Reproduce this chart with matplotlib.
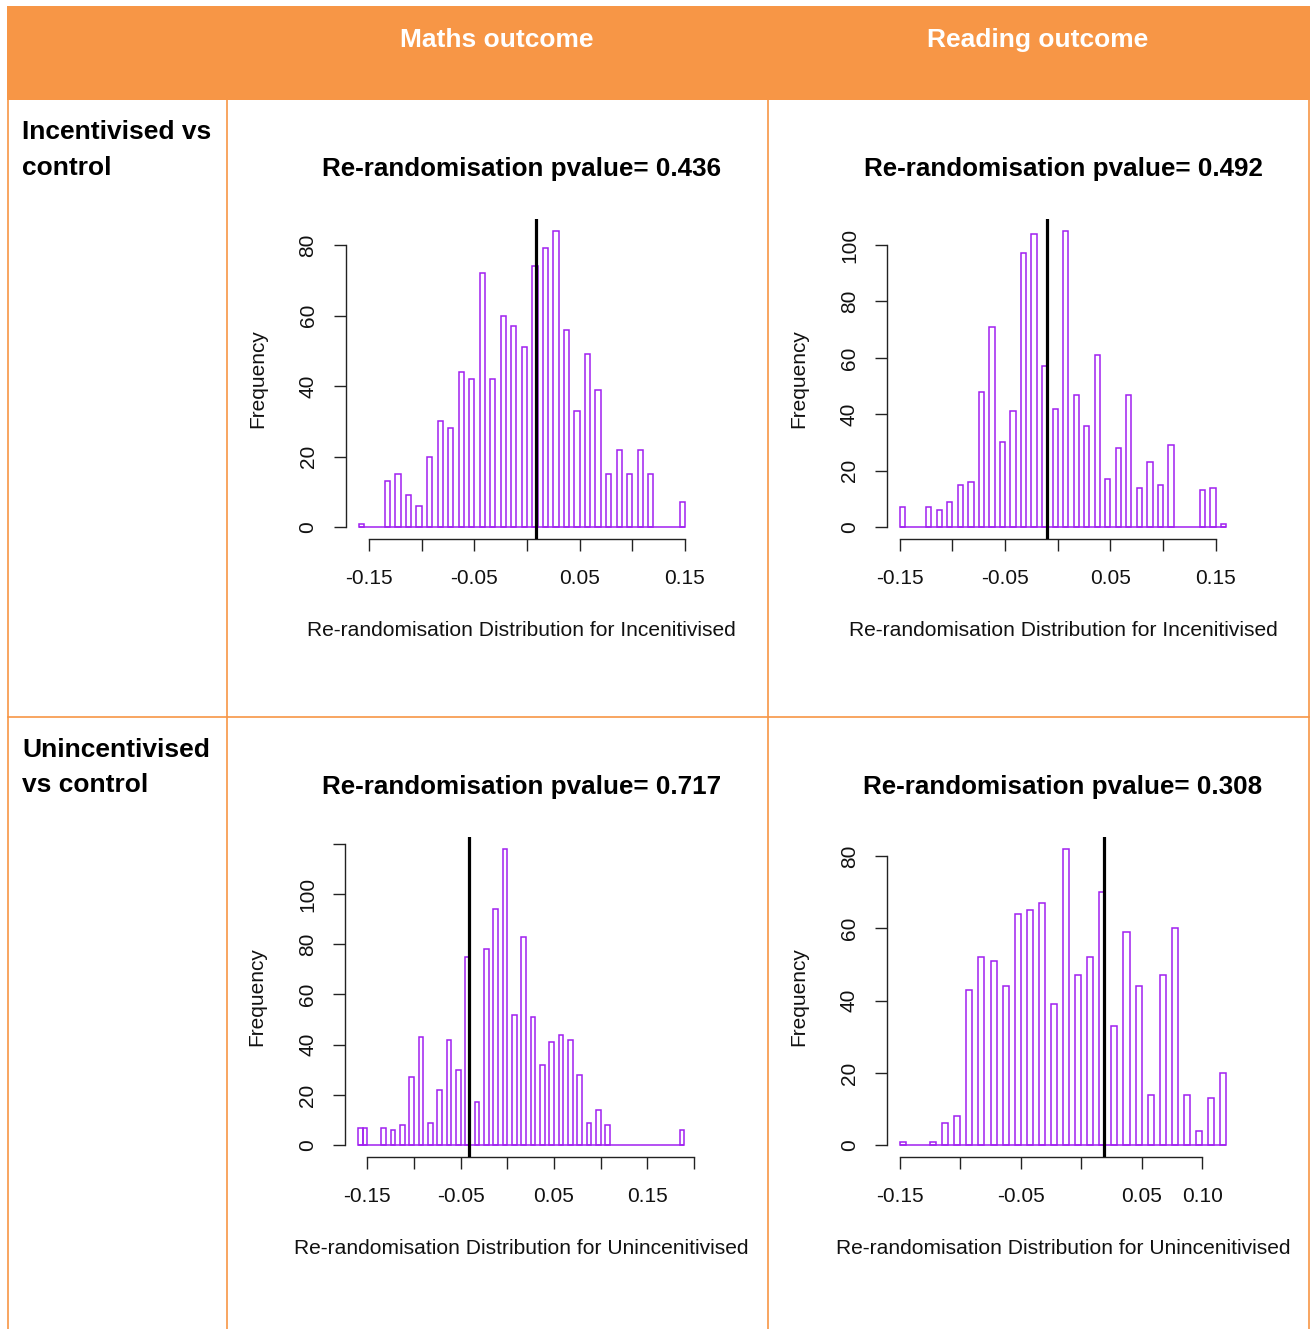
import matplotlib
matplotlib.use("Agg")
import matplotlib.pyplot as plt
from matplotlib.patches import Rectangle
from matplotlib.lines import Line2D

plt.rcParams['font.family'] = ['Liberation Sans', 'DejaVu Sans']

W, H = 1314, 1329
ORANGE = "#F79646"
PURPLE = "#A020F0"
BIN_W = 0.005

# ---------------- data ----------------
col_headers = ["Maths outcome", "Reading outcome"]
row_labels = [["Incentivised vs", "control"], ["Unincentivised", "vs control"]]

titles = ["Re-randomisation pvalue= 0.436", "Re-randomisation pvalue= 0.492",
          "Re-randomisation pvalue= 0.717", "Re-randomisation pvalue= 0.308"]
xlabels = ["Re-randomisation Distribution for Incenitivised",
           "Re-randomisation Distribution for Incenitivised",
           "Re-randomisation Distribution for Unincenitivised",
           "Re-randomisation Distribution for Unincenitivised"]

# Maths, incentivised vs control
maths_inc_bins = [-0.160, -0.135, -0.125, -0.115, -0.105, -0.095, -0.085, -0.075,
                  -0.065, -0.055, -0.045, -0.035, -0.025, -0.015, -0.005, 0.005,
                  0.015, 0.025, 0.035, 0.045, 0.055, 0.065, 0.075, 0.085, 0.095,
                  0.105, 0.115, 0.145]
maths_inc_counts = [1, 13, 15, 9, 6, 20, 30, 28, 44, 42, 72, 42, 60, 57, 51, 74,
                    79, 84, 56, 33, 49, 39, 15, 22, 15, 22, 15, 7]
maths_inc_obs = 0.009

# Reading, incentivised vs control
read_inc_bins = [-0.150, -0.125, -0.115, -0.105, -0.095, -0.085, -0.075, -0.065,
                 -0.055, -0.045, -0.035, -0.025, -0.015, -0.005, 0.005, 0.015,
                 0.025, 0.035, 0.045, 0.055, 0.065, 0.075, 0.085, 0.095, 0.105,
                 0.135, 0.145, 0.155]
read_inc_counts = [7, 7, 6, 9, 15, 16, 48, 71, 30, 41, 97, 104, 57, 42, 105, 47,
                   36, 61, 17, 28, 47, 14, 23, 15, 29, 13, 14, 1]
read_inc_obs = -0.010

# Maths, unincentivised vs control
maths_uninc_bins = [-0.160, -0.155, -0.135, -0.125, -0.115, -0.105, -0.095, -0.085,
                    -0.075, -0.065, -0.055, -0.045, -0.035, -0.025, -0.015, -0.005,
                    0.005, 0.015, 0.025, 0.035, 0.045, 0.055, 0.065, 0.075, 0.085,
                    0.095, 0.105, 0.185]
maths_uninc_counts = [7, 7, 7, 6, 8, 27, 43, 9, 22, 42, 30, 75, 17, 78, 94, 118,
                      52, 83, 51, 32, 41, 44, 42, 28, 9, 14, 8, 6]
maths_uninc_obs = -0.041

# Reading, unincentivised vs control
read_uninc_bins = [-0.150, -0.125, -0.115, -0.105, -0.095, -0.085, -0.075, -0.065,
                   -0.055, -0.045, -0.035, -0.025, -0.015, -0.005, 0.005, 0.015,
                   0.025, 0.035, 0.045, 0.055, 0.065, 0.075, 0.085, 0.095, 0.105,
                   0.115]
read_uninc_counts = [1, 1, 6, 8, 43, 52, 51, 44, 64, 65, 67, 39, 82, 47, 52, 70,
                     33, 59, 44, 14, 47, 60, 14, 4, 13, 20]
read_uninc_obs = 0.019

xticks_a = [-0.15, -0.10, -0.05, 0.00, 0.05, 0.10, 0.15]
xticklabels_a = ["-0.15", "", "-0.05", "", "0.05", "", "0.15"]
xticks_c = [-0.15, -0.10, -0.05, 0.00, 0.05, 0.10, 0.15, 0.20]
xticklabels_c = ["-0.15", "", "-0.05", "", "0.05", "", "0.15", ""]
xticks_d = [-0.15, -0.10, -0.05, 0.00, 0.05, 0.10]
xticklabels_d = ["-0.15", "", "-0.05", "", "0.05", "0.10"]

yticks_a = [0, 20, 40, 60, 80]
yticklabels_a = ["0", "20", "40", "60", "80"]
yticks_b = [0, 20, 40, 60, 80, 100]
yticklabels_b = ["0", "20", "40", "60", "80", "100"]
yticks_c = [0, 20, 40, 60, 80, 100, 120]
yticklabels_c = ["0", "20", "40", "60", "80", "100", ""]

panels = [
    (maths_inc_bins, maths_inc_counts, maths_inc_obs, xticks_a, xticklabels_a, yticks_a, yticklabels_a),
    (read_inc_bins, read_inc_counts, read_inc_obs, xticks_a, xticklabels_a, yticks_b, yticklabels_b),
    (maths_uninc_bins, maths_uninc_counts, maths_uninc_obs, xticks_c, xticklabels_c, yticks_c, yticklabels_c),
    (read_uninc_bins, read_uninc_counts, read_uninc_obs, xticks_d, xticklabels_d, yticks_a, yticklabels_a),
]

# ---------------- layout (pixels) ----------------
axes_px = [(345.5, 219, 352.5, 320), (886.8, 219, 352.5, 320),
           (345.0, 837, 352.5, 320), (886.8, 837, 352.5, 320)]

fig = plt.figure(figsize=(W / 100, H / 100), dpi=100)
fig.patch.set_facecolor("white")


def fx(x):
    return x / W


def fy(y):
    return 1 - y / H


# table: header band
fig.patches.append(Rectangle((fx(7), fy(100)), fx(1310) - fx(7), fy(6) - fy(100),
                             transform=fig.transFigure, facecolor=ORANGE,
                             edgecolor="none", zorder=0))
for xv in [8, 227, 768, 1309]:
    fig.lines.append(Line2D([fx(xv), fx(xv)], [fy(100), fy(H)], transform=fig.transFigure,
                            color=ORANGE, linewidth=1.2, zorder=1))
fig.lines.append(Line2D([fx(8), fx(1309)], [fy(717), fy(717)], transform=fig.transFigure,
                        color=ORANGE, linewidth=1.2, zorder=1))

for txt, xc in zip(col_headers, [497, 1038]):
    fig.text(fx(xc), fy(40), txt, ha="center", va="center", color="white",
             fontsize=19, fontweight="bold")

for lines, ys in zip(row_labels, [(132, 168), (750, 785)]):
    for ln, yv in zip(lines, ys):
        fig.text(fx(22), fy(yv), ln, ha="left", va="center", color="black",
                 fontsize=19, fontweight="bold")

# ---------------- histograms ----------------
for i, (bins, counts, obs, xt, xtl, yt, ytl) in enumerate(panels):
    l, t, w, h = axes_px[i]
    ax = fig.add_axes([fx(l), fy(t + h), w / W, h / H])
    ax.set_facecolor("none")
    lo = min(bins)
    hi = max(bins) + BIN_W
    pad = 0.04 * (hi - lo)
    ymax = max(counts)
    ax.set_xlim(lo - pad, hi + pad)
    ax.set_ylim(-0.04 * ymax, 1.04 * ymax)

    ax.hlines(0, lo, hi, color=PURPLE, linewidth=1.1, zorder=2)
    ax.bar(bins, counts, width=BIN_W, align="edge", fill=False,
           edgecolor=PURPLE, linewidth=1.1, zorder=2)
    ax.axvline(obs, color="black", linewidth=2.3, zorder=3)

    for s in ["top", "right"]:
        ax.spines[s].set_visible(False)
    for s in ["left", "bottom"]:
        ax.spines[s].set_color("#222222")
        ax.spines[s].set_linewidth(1.0)
    ax.spines["bottom"].set_bounds(xt[0], xt[-1])
    ax.spines["left"].set_bounds(yt[0], yt[-1])

    ax.set_xticks(xt)
    ax.set_xticklabels(xtl)
    ax.set_yticks(yt)
    ax.set_yticklabels(ytl, rotation=90, va="center")
    ax.tick_params(axis="both", direction="out", length=8.6, width=1.0,
                   color="#222222", labelsize=15, labelcolor="#111111")
    ax.tick_params(axis="x", pad=13)
    ax.tick_params(axis="y", pad=11.5)

    ax.set_title(titles[i], fontsize=18.7, fontweight="bold", y=1 + 50 / h,
                 va="center", pad=0)
    ax.set_xlabel(xlabels[i], fontsize=15.1, color="#111111")
    ax.xaxis.set_label_coords(0.5, -92 / h)
    ax.xaxis.label.set_va("center")
    ax.set_ylabel("Frequency", fontsize=15, color="#111111")
    ax.yaxis.set_label_coords(-88 / w, 0.5)
    ax.yaxis.label.set_va("center")

fig.savefig("out.png", dpi=100, facecolor="white")
